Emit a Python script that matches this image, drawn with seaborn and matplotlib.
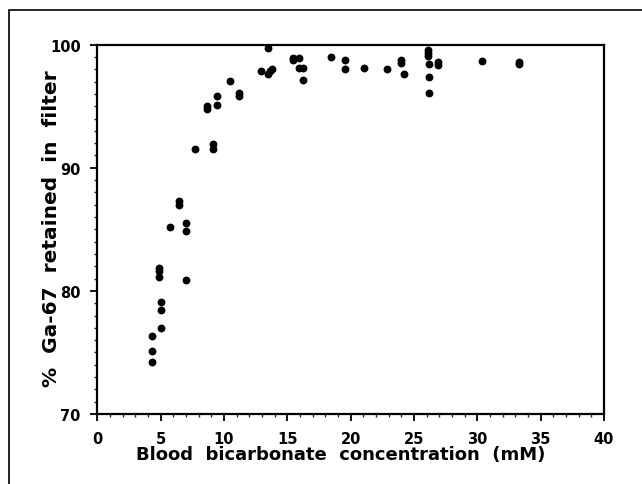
import numpy as np
import pandas as pd
import matplotlib.pyplot as plt
import seaborn as sns
from matplotlib.patches import Rectangle
from matplotlib.ticker import MultipleLocator

# values
bicarbonate = [4.29, 4.34, 4.34, 4.87, 4.87, 4.87, 5.03, 5.03, 5.03, 5.74,
               6.42, 6.42, 6.98, 6.98, 6.98, 7.69, 8.63, 8.68, 9.11, 9.11,
               9.47, 9.47, 10.47, 11.16, 11.16, 12.9, 13.5, 13.5, 13.63, 13.76,
               15.42, 15.47, 15.9, 15.94, 16.2, 16.2, 18.42, 19.57, 19.57, 21.07,
               22.89, 24.0, 24.0, 24.18, 26.08, 26.08, 26.1, 26.15, 26.15, 26.15,
               26.87, 26.87, 30.39, 33.3, 33.3]
retained = [75.15, 76.3, 74.25, 81.85, 81.65, 81.1, 79.1, 78.45, 77.0, 85.2,
            87.3, 87.0, 85.5, 84.9, 80.9, 91.5, 95.0, 94.8, 91.95, 91.5,
            95.85, 95.1, 97.05, 96.1, 95.8, 97.9, 99.76, 97.6, 97.9, 98.0,
            98.92, 98.76, 98.89, 98.1, 98.1, 97.13, 98.97, 98.76, 98.03, 98.13,
            98.0, 98.76, 98.54, 97.62, 99.54, 99.33, 99.05, 98.43, 97.35, 96.1,
            98.57, 98.35, 98.65, 98.56, 98.45]

df = pd.DataFrame({"bicarb": bicarbonate, "ga67": retained})

sns.set_style("ticks")
plt.rcParams["font.family"] = ["DejaVu Sans"]
plt.rcParams["text.color"] = "black"
plt.rcParams["axes.labelcolor"] = "black"

fig = plt.figure(figsize=(6.42, 4.85), dpi=100)
ax = fig.add_axes([0.1516, 0.1443, 0.7892, 0.7615])

sns.scatterplot(data=df, x="bicarb", y="ga67", ax=ax, color="black",
                s=32, edgecolor="black", linewidth=0)

ax.set_xlim(0, 40)
ax.set_ylim(70, 100)
ax.xaxis.set_major_locator(MultipleLocator(5))
ax.xaxis.set_minor_locator(MultipleLocator(1))
ax.yaxis.set_major_locator(MultipleLocator(10))
ax.yaxis.set_minor_locator(MultipleLocator(1))
ax.tick_params(which="major", direction="out", length=5, width=1.3,
               labelsize=10.5, colors="black", pad=7)
ax.tick_params(which="minor", direction="out", length=2.5, width=1.0)
for lab in ax.get_xticklabels() + ax.get_yticklabels():
    lab.set_fontweight("bold")
for sp in ax.spines.values():
    sp.set_linewidth(1.6)
    sp.set_color("black")

ax.set_xlabel("Blood  bicarbonate  concentration  (mM)", fontsize=13,
              fontweight="bold")
ax.set_ylabel("%  Ga-67  retained  in  filter", fontsize=14.5,
              fontweight="bold")
ax.xaxis.set_label_coords(0.481, -0.084)
ax.yaxis.set_label_coords(-0.072, 0.505)

# outer frame around the whole panel
fig.patches.append(Rectangle((9 / 642, -0.1), 1.2, 1.1 - 11 / 485,
                             transform=fig.transFigure, fill=False,
                             edgecolor="black", linewidth=1.2))

fig.savefig("out.png", dpi=100)
